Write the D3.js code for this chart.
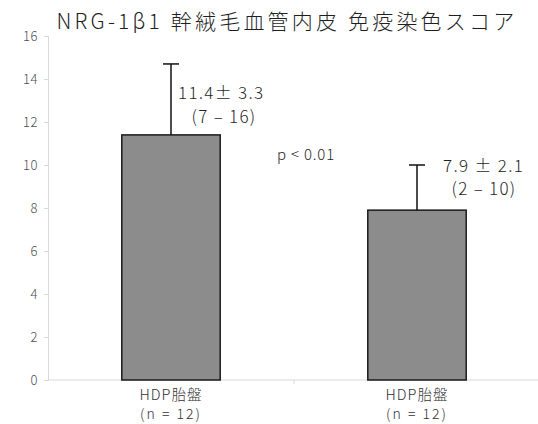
<!DOCTYPE html>
<html>
<head>
<meta charset="utf-8">
<script src="https://cdn.jsdelivr.net/npm/d3@7"></script>
<style>
  html, body { margin: 0; padding: 0; background: #fff; }
  svg { display: block; font-family: "Noto Sans CJK JP", "Noto Sans", sans-serif; font-weight: 300; }
</style>
</head>
<body>
<svg id="chart" width="538" height="424"></svg>
<script>
// Immunostaining scores, mean ± SD with range
const categories = ["HDP胎盤", "HDP胎盤 "];
const groupN = ["(n = 12)", "(n = 12)"];
const means = [11.4, 7.9];
const sds = [3.3, 2.1];
const ranges = [["7", "16"], ["2", "10"]];
const yTicks = [0, 2, 4, 6, 8, 10, 12, 14, 16];
const titleText = "NRG-1β1 幹絨毛血管内皮 免疫染色スコア";
const pText = "p < 0.01";

const svg = d3.select("#chart");
const margin = { left: 48, right: -2, top: 36, bottom: 44 };
const W = 538, H = 424;

const x = d3.scaleBand().domain(categories)
  .range([margin.left, W - margin.right]).paddingInner(0.6).paddingOuter(0.3);
const y = d3.scaleLinear().domain([0, 16]).range([H - margin.bottom, margin.top]);

// y axis
const yAxis = svg.append("g").attr("transform", `translate(${margin.left},0)`)
  .call(d3.axisLeft(y).tickValues(yTicks).tickSize(4).tickPadding(6));
yAxis.select(".domain").attr("stroke", "#d9d9d9");
yAxis.selectAll(".tick line").attr("stroke", "#d9d9d9");
yAxis.selectAll(".tick text").attr("fill", "#505050").attr("font-size", 13)
  .attr("font-family", "'Noto Sans CJK JP', sans-serif").attr("font-weight", 300)
  .attr("letter-spacing", 0.5);

// x axis baseline with category divider
svg.append("line").attr("x1", margin.left).attr("x2", W)
  .attr("y1", y(0)).attr("y2", y(0)).attr("stroke", "#d9d9d9");
const divX = (x(categories[0]) + x(categories[1]) + x.bandwidth()) / 2;
svg.append("line").attr("x1", divX).attr("x2", divX)
  .attr("y1", y(0)).attr("y2", y(0) + 4).attr("stroke", "#d9d9d9");

// bars
svg.selectAll("rect.bar").data(categories).join("rect")
  .attr("class", "bar")
  .attr("x", d => x(d))
  .attr("width", x.bandwidth())
  .attr("y", (d, i) => y(means[i]))
  .attr("height", (d, i) => y(0) - y(means[i]))
  .attr("fill", "#8c8c8c").attr("stroke", "#1a1a1a").attr("stroke-width", 1.5);

// error bars (upper only)
categories.forEach((c, i) => {
  const cx = x(c) + x.bandwidth() / 2;
  const top = y(means[i] + sds[i]);
  svg.append("line").attr("x1", cx).attr("x2", cx)
    .attr("y1", y(means[i])).attr("y2", top)
    .attr("stroke", "#111").attr("stroke-width", 1.5);
  svg.append("line").attr("x1", cx - 8).attr("x2", cx + 8)
    .attr("y1", top).attr("y2", top)
    .attr("stroke", "#111").attr("stroke-width", 1.5);
});

// value annotations
const ann = svg.append("g").attr("fill", "#1f1f1f").attr("font-size", 17)
  .attr("letter-spacing", 1.3);
const c0 = x(categories[0]) + x.bandwidth() / 2;
const c1 = x(categories[1]) + x.bandwidth() / 2;
ann.append("text").attr("x", c0 + 7).attr("y", y(means[0] + sds[0]) + 35)
  .text(`${means[0]}± ${sds[0]}`);
ann.append("text").attr("x", c0 + 53).attr("y", y(means[0] + sds[0]) + 59)
  .attr("text-anchor", "middle").text(`(${ranges[0][0]} – ${ranges[0][1]})`);
ann.append("text").attr("x", c1 + 26).attr("y", y(means[1] + sds[1]) + 7)
  .text(`${means[1]} ± ${sds[1]}`);
ann.append("text").attr("x", c1 + 67).attr("y", y(means[1] + sds[1]) + 30)
  .attr("text-anchor", "middle").text(`(${ranges[1][0]} – ${ranges[1][1]})`);

svg.append("text").attr("x", 306).attr("y", 160).attr("text-anchor", "middle")
  .attr("font-size", 15).attr("letter-spacing", 0.8)
  .attr("fill", "#1f1f1f").text(pText);

// category labels
categories.forEach((c, i) => {
  const cx = x(c) + x.bandwidth() / 2;
  const g = svg.append("g").attr("fill", "#333").attr("text-anchor", "middle");
  g.append("text").attr("x", cx).attr("y", 400).attr("font-size", 14.5)
    .attr("letter-spacing", 1).text(c.trim());
  g.append("text").attr("x", cx).attr("y", 419).attr("font-size", 14)
    .attr("letter-spacing", 2).text(groupN[i]);
});

// title
svg.append("text").attr("x", 287).attr("y", 29).attr("text-anchor", "middle")
  .attr("font-size", 21).attr("letter-spacing", 3.2)
  .attr("fill", "#1f1f1f").text(titleText);
</script>
</body>
</html>
